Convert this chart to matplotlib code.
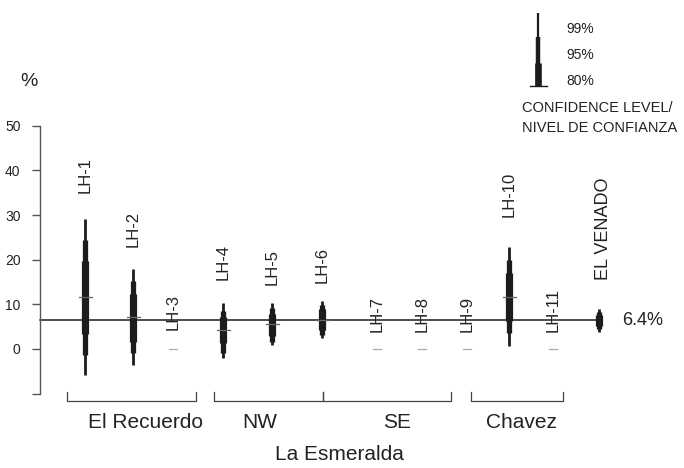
import numpy as np
import matplotlib
matplotlib.use("Agg")
import matplotlib.pyplot as plt

plt.rcParams['font.family'] = ['Liberation Sans', 'DejaVu Sans']

# Samples and their estimated percentages with confidence intervals
samples = ["LH-1", "LH-2", "LH-3", "LH-4", "LH-5", "LH-6", "LH-7", "LH-8",
           "LH-9", "LH-10", "LH-11", "EL VENADO"]
mean = [11.6, 7.1, 0.0, 4.3, 5.6, 6.6, 0.0, 0.0, 0.0, 11.7, 0.0, 6.4]
ci99_lo = [-5.8, -3.6, np.nan, -2.1, 0.8, 2.4, np.nan, np.nan, np.nan, 0.7, np.nan, 3.9]
ci99_hi = [29.1, 17.9, np.nan, 10.2, 10.4, 10.8, np.nan, np.nan, np.nan, 22.8, np.nan, 9.0]
ci95_lo = [-1.3, -0.8, np.nan, -1.0, 1.6, 3.1, np.nan, np.nan, np.nan, 3.5, np.nan, 4.5]
ci95_hi = [24.4, 15.2, np.nan, 8.6, 9.1, 9.9, np.nan, np.nan, np.nan, 20.0, np.nan, 8.3]
ci80_lo = [3.4, 1.6, np.nan, 1.3, 3.0, 4.2, np.nan, np.nan, np.nan, 6.3, np.nan, 5.2]
ci80_hi = [19.8, 12.3, np.nan, 7.2, 7.8, 9.0, np.nan, np.nan, np.nan, 17.1, np.nan, 7.6]
reference_value = 6.4
y_ticks = [-10, 0, 10, 20, 30, 40, 50]
y_tick_labels = ["", "0", "10", "20", "30", "40", "50"]
groups = ["El Recuerdo", "NW", "SE", "Chavez"]
area_label = "La Esmeralda"

# Layout (horizontal positions in figure pixels, label anchors in data units)
x_pos = [85, 133, 173, 223, 272, 322, 377, 422, 467, 509, 553, 599]
label_x_shift = [0, 0, 0, 0, 0, 0, 0, 0, 0, 0, 0, 4]
label_y = [35.0, 22.9, 4.3, 15.5, 14.3, 14.8, 3.8, 3.8, 3.8, 29.6, 3.8, 15.5]
group_spans = [(67, 196), (214, 323), (323, 451), (471, 563)]
group_text_x = [145, 260, 397, 521]

W, H = 684, 468
PX_ZERO, PX_PER_UNIT = 349.0, 4.466


def v(py):
    """Convert a vertical pixel position to a data value."""
    return (PX_ZERO - py) / PX_PER_UNIT


ink = "#1c1c1c"
fig = plt.figure(figsize=(W / 100, H / 100), dpi=100)
ax = fig.add_axes([0, 0, 1, 1])
ax.set_xlim(0, W)
ax.set_ylim(v(H), v(0))
ax.patch.set_alpha(0)

# y axis
for s in ["top", "right", "bottom"]:
    ax.spines[s].set_visible(False)
ax.spines["left"].set_position(("data", 40))
ax.spines["left"].set_bounds(-10, 50)
ax.spines["left"].set_color("#555555")
ax.spines["left"].set_linewidth(1.0)
ax.set_yticks(y_ticks)
ax.set_yticklabels(y_tick_labels)
ax.tick_params(axis="y", direction="out", length=6, width=1.0, color="#555555",
               pad=8, labelsize=10, labelcolor="#222222")
ax.set_xticks([])
ax.text(29, v(82), "%", fontsize=14, color="#222222", ha="center", va="center")

# reference line
ax.plot([40, x_pos[-1]], [reference_value, reference_value], color=ink, lw=1.1, zorder=2)
ax.text(622, reference_value, f"{reference_value}%", fontsize=13, color="#222222",
        ha="left", va="center")

# confidence bars
for i, x in enumerate(x_pos):
    if not np.isnan(ci99_lo[i]):
        ax.plot([x, x], [ci99_lo[i], ci99_hi[i]], color=ink, lw=2.0,
                solid_capstyle="butt", zorder=3)
        ax.plot([x, x], [ci95_lo[i], ci95_hi[i]], color=ink, lw=3.8,
                solid_capstyle="butt", zorder=4)
        ax.plot([x, x], [ci80_lo[i], ci80_hi[i]], color=ink, lw=5.2,
                solid_capstyle="butt", zorder=5)
        if i < len(x_pos) - 1:
            ax.plot([x - 6.5, x + 6.5], [mean[i], mean[i]], color="#666666", lw=0.9, zorder=6)
    else:
        ax.plot([x - 4, x + 4], [mean[i], mean[i]], color="#aaaaaa", lw=0.9, zorder=3)
    ax.text(x + label_x_shift[i], label_y[i], samples[i], rotation=90,
            fontsize=12 if i < 11 else 13, color="#222222", ha="center", va="bottom")

# group brackets
yb_top, yb_bot = v(392), v(401)
for (x0, x1), name, tx in zip(group_spans, groups, group_text_x):
    ax.plot([x0, x0, x1, x1], [yb_top, yb_bot, yb_bot, yb_top], color="#444444", lw=0.9)
    ax.text(tx, v(422), name, fontsize=15, color="#222222", ha="center", va="center")
ax.text(339, v(455), area_label, fontsize=15, color="#222222", ha="center", va="center")

# confidence level key
kx = 538
ax.plot([kx, kx], [v(86), v(12.7)], color=ink, lw=1.6, solid_capstyle="butt")
ax.plot([kx, kx], [v(86), v(36.7)], color=ink, lw=3.2, solid_capstyle="butt")
ax.plot([kx, kx], [v(86), v(63)], color=ink, lw=4.8, solid_capstyle="butt")
ax.plot([530, 547], [v(86), v(86)], color=ink, lw=1.0)
for txt, py in [("99%", 29), ("95%", 55), ("80%", 81)]:
    ax.text(566, v(py), txt, fontsize=10, color="#222222", ha="left", va="center")
ax.text(522, v(108), "CONFIDENCE LEVEL/", fontsize=10.5, color="#222222",
        ha="left", va="center")
ax.text(522, v(128), "NIVEL DE CONFIANZA", fontsize=10.5, color="#222222",
        ha="left", va="center")

fig.savefig("out.png", dpi=100, facecolor="white")
